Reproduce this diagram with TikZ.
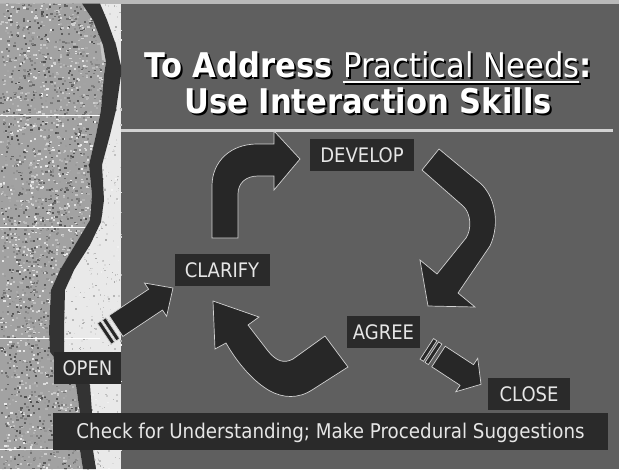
\documentclass[tikz,border=0pt]{standalone}
\usepackage{fontspec}
\setmainfont{DejaVu Sans}[FakeStretch=0.9]
\usetikzlibrary{calc}

\definecolor{panel}{HTML}{5F5F5F}
\definecolor{boxgray}{HTML}{2A2A2A}
\definecolor{arrowgray}{HTML}{272727}
\definecolor{edgegray}{HTML}{D2D2D2}
\definecolor{labelgray}{HTML}{E6E6E6}
\definecolor{granite}{HTML}{A2A2A2}
\definecolor{paper}{HTML}{E9E9E9}
\definecolor{crack}{HTML}{333333}

\newcommand{\titleul}[1]{\setbox0=\hbox{#1}\rlap{\rule[-6pt]{\wd0}{2pt}}\box0}
\newcommand{\shadowed}[1]{\rlap{\kern2pt\raisebox{-2pt}{\color{black}#1}}#1}

% straight block arrow: tail, tip, half body, half head, head length
\newcommand{\blockarrow}[5]{%
  \coordinate (hb) at ($(#2)!#5!(#1)$);
  \foreach \sa/\sb in {4pt/8pt, 10pt/14pt}{
    \filldraw[blockarrow] ($($(#1)!-\sa!(#2)$)!#3!90:(#2)$) -- ($($(#1)!-\sb!(#2)$)!#3!90:(#2)$)
      -- ($($(#1)!-\sb!(#2)$)!#3!-90:(#2)$) -- ($($(#1)!-\sa!(#2)$)!#3!-90:(#2)$) -- cycle;
  }
  \filldraw[blockarrow] ($(#1)!#3!90:(#2)$) -- ($(hb)!#3!90:(#2)$) -- ($(hb)!#4!90:(#2)$)
    -- (#2) -- ($(hb)!#4!-90:(#2)$) -- ($(hb)!#3!-90:(#2)$) -- ($(#1)!#3!-90:(#2)$) -- cycle;
}

\begin{document}
\begin{tikzpicture}[x=1pt,y=-1pt]
\tikzstyle{every node}+=[inner sep=0pt]
\tikzstyle{blockarrow}=[fill=arrowgray, draw=edgegray, line width=0.7pt]
\tikzstyle{stage}=[fill=boxgray, text=labelgray, font=\fontsize{20}{24}\selectfont, minimum height=32pt, text height=14.5pt, text depth=0pt]
\tikzstyle{headline}=[font=\fontsize{34}{40}\selectfont, text=white, anchor=base]
\useasboundingbox (0,0) rectangle (619,469);
\pgfmathsetseed{7}

\fill[panel] (0,0) rectangle (619,469);
\fill[gray!55] (0,0) rectangle (619,3.5);
\fill[paper] (0,3.5) rectangle (121,469);
\foreach \k in {1,...,900}{
  \pgfmathsetmacro{\gx}{55+rnd*66}
  \pgfmathsetmacro{\gy}{3.5+rnd*465}
  \pgfmathsetmacro{\gs}{int(5+rnd*30)}
  \fill[black!\gs!white] (\gx,\gy) rectangle ++(1.5,1.5);
}
\begin{scope}
\clip (0,3.5) -- (82,3.5) -- (93,20) -- (103,45) -- (106,62) -- (104,75) -- (101,110) -- (96,135)
  -- (89,165) -- (92,195) -- (90,220) -- (75,245) -- (60,270) -- (51,290) -- (49,330) -- (50,352)
  -- (76,385) -- (80,413) -- (80,450) -- (83,469) -- (0,469) -- cycle;
\fill[granite] (0,0) rectangle (121,469);
\foreach \k in {1,...,3200}{
  \pgfmathsetmacro{\gx}{rnd*110}
  \pgfmathsetmacro{\gy}{rnd*469}
  \pgfmathsetmacro{\gs}{int(8+rnd*62)}
  \fill[black!\gs!white] (\gx,\gy) rectangle ++(2.2,1.8);
}
\end{scope}
\foreach \ty in {115,227,338,449}
  \draw[white, line width=0.8pt] (0,\ty) -- (100,\ty);
\fill[gray!45] (100,42) -- (112,44) -- (110,62) -- (102,60) -- cycle;
\fill[gray!45] (78,240) -- (84,246) -- (70,280) -- (63,283) -- (66,262) -- cycle;
\fill[crack] (82,3.5) -- (93,20) -- (103,45) -- (106,62) -- (104,75) -- (101,110) -- (96,135)
  -- (89,165) -- (92,195) -- (90,220) -- (75,245) -- (60,270) -- (51,290) -- (49,330) -- (50,352)
  -- (76,385) -- (80,413) -- (80,450) -- (83,469) -- (96,469) -- (93,450) -- (92,413) -- (90,385)
  -- (64,352) -- (64,330) -- (65,290) -- (74,270) -- (90,245) -- (101,222) -- (104,200) -- (102,165)
  -- (110,135) -- (116,110) -- (121,75) -- (121,66) -- (116,45) -- (107,20) -- (100,3.5) -- cycle;

\draw[edgegray, line width=3pt] (121,130) -- (613,130);

\filldraw[blockarrow] (212,238) -- (212,186) .. controls (212,161) and (231,144) .. (257,144) -- (274,144)
  -- (274,131) -- (300,159) -- (274,190) -- (274,176) -- (258,176) .. controls (246,176) and (238,183) .. (238,194)
  -- (238,238) -- cycle;
\filldraw[blockarrow] (439,149) -- (480,183) .. controls (494,195) and (501,222) .. (490,246) -- (458,293)
  -- (475,307) -- (428,306) -- (420,260) -- (437,274) -- (466,238) .. controls (472,229) and (471,213) .. (463,206)
  -- (422,170) -- cycle;
\filldraw[blockarrow] (213,301) -- (259,317) -- (248,325) -- (268,351) .. controls (276,361) and (284,364) .. (293,359)
  -- (325,336) -- (348,367) -- (312,390) .. controls (298,399) and (283,398) .. (270,391)
  .. controls (254,382) and (238,364) .. (226,343) -- (215,349) -- cycle;

\coordinate (opentail) at (116,326);
\coordinate (opentip) at (173,288);
\blockarrow{opentail}{opentip}{12.5pt}{20pt}{21pt}
\coordinate (agreetail) at (438.5,356.5);
\coordinate (agreetip) at (481,384.3);
\blockarrow{agreetail}{agreetip}{12.3pt}{20pt}{17pt}

\node[stage, minimum width=104pt] (develop) at (362,155) {DEVELOP};
\node[stage, minimum width=95pt] (clarify) at (222,270) {CLARIFY};
\node[stage, minimum width=73pt] (agree) at (383.5,332) {AGREE};
\node[stage, minimum width=67pt] (open) at (87.5,368) {OPEN};
\node[stage, minimum width=82pt] (close) at (529,394) {CLOSE};
\node[stage, font=\fontsize{20.3}{24}\selectfont, minimum width=555pt, minimum height=37pt] (note) at (330.5,431.5) {Check for Understanding; Make Procedural Suggestions};

\node[headline] (title) at (368,77) {\shadowed{\bfseries To Address \mdseries\titleul{Practical Needs}\bfseries:}};
\node[headline] (subtitle) at (368,113) {\shadowed{\bfseries Use Interaction Skills}};
\end{tikzpicture}
\end{document}
